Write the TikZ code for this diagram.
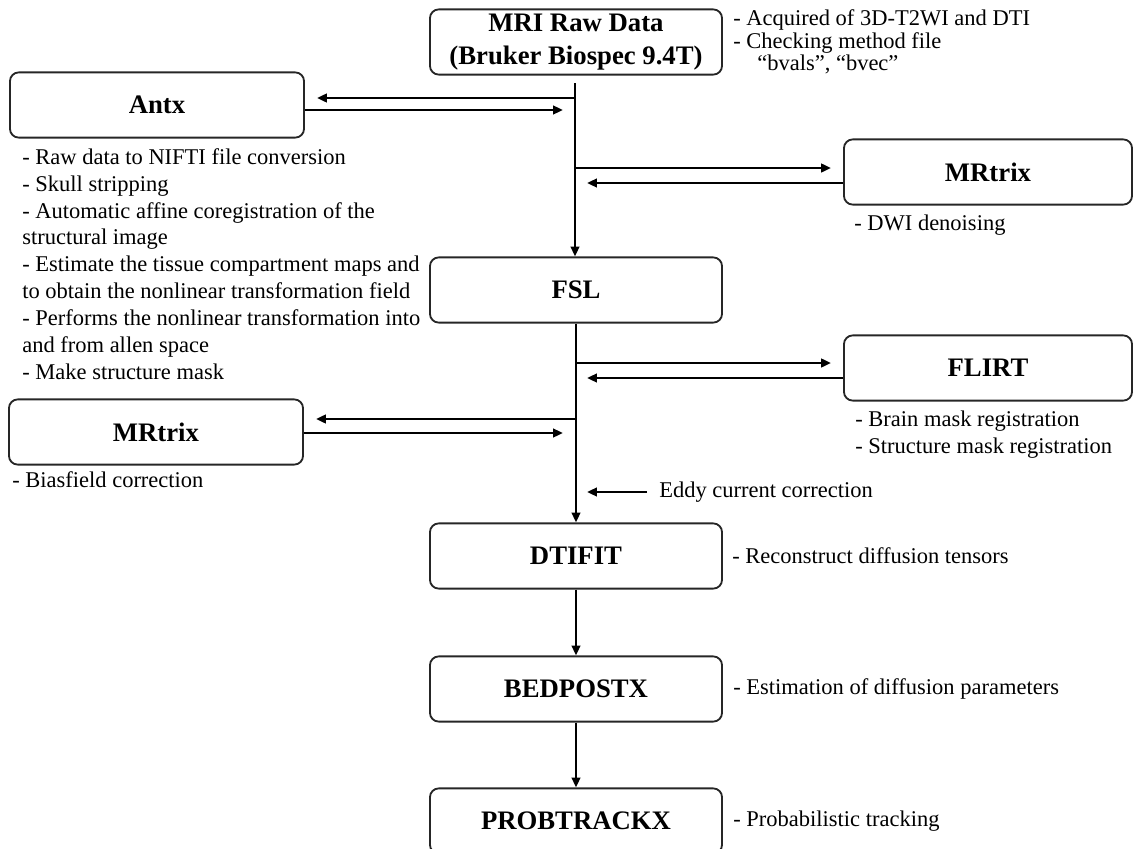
\documentclass[tikz,border=0pt]{standalone}
\usepackage{fontspec}
\setmainfont{Liberation Serif}
\usetikzlibrary{arrows.meta}
\begin{document}
\begin{tikzpicture}[x=0.025cm,y=-0.025cm,
  box/.style={draw=black!85,line width=1.3pt,rounded corners=0.22cm,minimum height=1.63cm,
    font=\fontsize{19}{24}\selectfont\bfseries,align=center,inner sep=0pt},
  mainbox/.style={box,minimum width=7.3cm},
  sidebox/.style={box,minimum width=7.2cm},
  note/.style={anchor=west,inner sep=0pt,font=\fontsize{16}{19.1}\selectfont,align=left},
  flow/.style={line width=1.8pt,-{Triangle[length=7pt,width=6pt]}},
  back/.style={flow,shorten >=0.3cm}]
\useasboundingbox (0,0) rectangle (1133,849);
% pipeline boxes
\node[mainbox] (mri) at (576,42) {MRI Raw Data\\(Bruker Biospec 9.4T)};
\node[mainbox] (fsl) at (576,290) {FSL};
\node[mainbox] (dtifit) at (576,556) {DTIFIT};
\node[mainbox] (bedpostx) at (576,689) {BEDPOSTX};
\node[mainbox] (probtrackx) at (576,821) {PROBTRACKX};
\node[sidebox,minimum width=7.35cm] (antx) at (157,105) {Antx};
\node[sidebox] (mrtrixR) at (988,172) {MRtrix};
\node[sidebox] (flirt) at (988,368) {FLIRT};
\node[sidebox,minimum width=7.35cm] (mrtrixL) at (156,432) {MRtrix};
% notes
\node[note,font=\fontsize{16}{16}\selectfont] (mriNote) at (733,42) {- Acquired of 3D-T2WI and DTI\\- Checking method file\\\hspace*{0.6cm}“bvals”, “bvec”};
\node[note] (antxNote) at (22,264) {- Raw data to NIFTI file conversion\\- Skull stripping\\- Automatic affine coregistration of the\\structural image\\- Estimate the tissue compartment maps and\\to obtain the nonlinear transformation field\\- Performs the nonlinear transformation into\\and from allen space\\- Make structure mask};
\node[note] (mrtrixRNote) at (854,225) {- DWI denoising};
\node[note] (flirtNote) at (855,435) {- Brain mask registration\\- Structure mask registration};
\node[note] (mrtrixLNote) at (12,480) {- Biasfield correction};
\node[note] (eddy) at (659,492) {Eddy current correction};
\node[note] (dtifitNote) at (732,556) {- Reconstruct diffusion tensors};
\node[note] (bedpostxNote) at (733,689) {- Estimation of diffusion parameters};
\node[note] (probtrackxNote) at (733,821) {- Probabilistic tracking};
% trunk
\coordinate (top) at (575,83);
\coordinate (a1) at (575,98);  \coordinate (a2) at (575,110);
\coordinate (b1) at (575,168); \coordinate (b2) at (575,183);
\coordinate (c1) at (575,363); \coordinate (c2) at (575,378);
\coordinate (d1) at (575,419); \coordinate (d2) at (575,433);
\coordinate (e1) at (575,492); \coordinate (e2) at (647,492);
\draw[flow] (top) -- (top |- fsl.north);
\draw[flow] (fsl) -- (dtifit);
\draw[flow] (dtifit) -- (bedpostx);
\draw[flow] (bedpostx) -- (probtrackx);
% side loops
\draw[back] (a1) -- (antx.east |- a1);
\draw[back] (antx.east |- a2) -- (a2);
\draw[back] (b1) -- (mrtrixR.west |- b1);
\draw[back] (mrtrixR.west |- b2) -- (b2);
\draw[back] (c1) -- (flirt.west |- c1);
\draw[back] (flirt.west |- c2) -- (c2);
\draw[back] (d1) -- (mrtrixL.east |- d1);
\draw[back] (mrtrixL.east |- d2) -- (d2);
\draw[back] (e2) -- (e1);
\end{tikzpicture}
\end{document}
